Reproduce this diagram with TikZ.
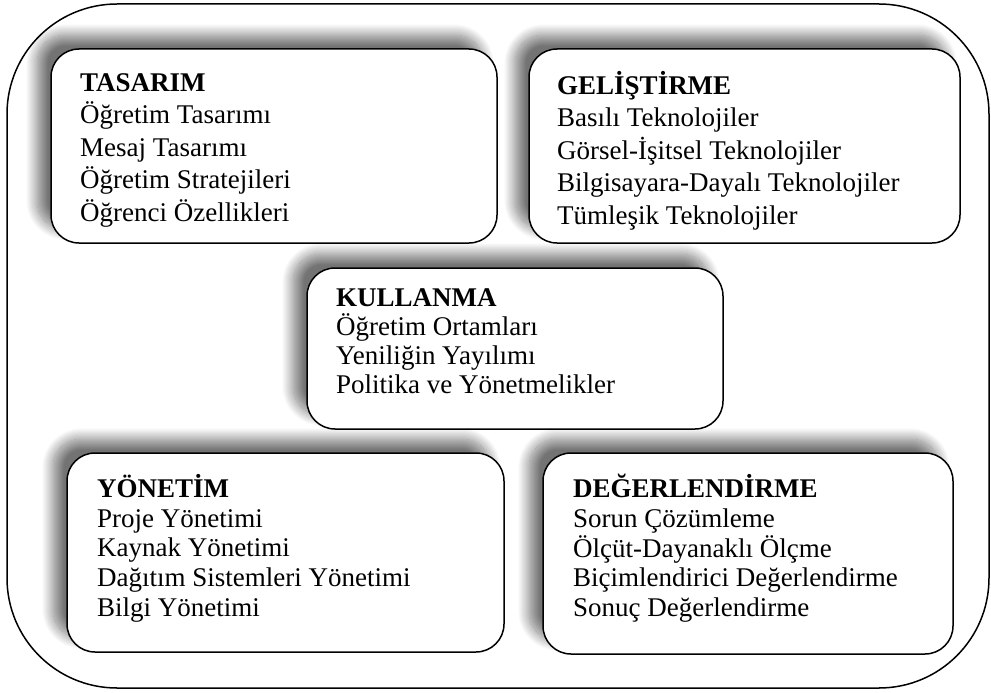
\documentclass[tikz,border=0pt]{standalone}
\usepackage{fontspec}
\setmainfont{Liberation Serif}
\usetikzlibrary{shadows.blur}
\begin{document}
\begin{tikzpicture}[x=1pt,y=-1pt]
\useasboundingbox (0,0) rectangle (991,693);
\tikzset{
  box/.style={rectangle, draw=black, line width=1.5pt, fill=white, rounded corners=28pt, inner sep=0pt,
    blur shadow={shadow xshift=-14pt, shadow yshift=14pt, shadow blur radius=11pt, shadow blur steps=20, shadow opacity=55}},
  outerbox/.style={rectangle, draw=black, line width=1.5pt, rounded corners=110pt, inner sep=0pt},
  txt/.style={anchor=north west, align=left, inner sep=0pt},
}
\newcommand{\hstrut}{\rule{0pt}{20pt}}
\node[outerbox, minimum width=982pt, minimum height=684pt] (outer) at (498,346) {};

\node[box, minimum width=446pt, minimum height=194pt] (tas) at (274,146) {};
\node[box, minimum width=431pt, minimum height=194pt] (gel) at (744.5,146) {};
\node[box, minimum width=416pt, minimum height=161pt] (kul) at (515,348.5) {};
\node[box, minimum width=437pt, minimum height=199pt] (yon) at (285.5,552.5) {};
\node[box, minimum width=410pt, minimum height=201pt] (deg) at (748,553.5) {};

\node[txt, font=\fontsize{27}{32.5}\selectfont] (tastxt) at (80,71)
  {\hstrut\textbf{TASARIM}\\Öğretim Tasarımı\\Mesaj Tasarımı\\Öğretim Stratejileri\\Öğrenci Özellikleri};
\node[txt, font=\fontsize{27}{32.5}\selectfont] (geltxt) at (557,71)
  {\hstrut\textbf{GELİŞTİRME}\\Basılı Teknolojiler\\Görsel-İşitsel Teknolojiler\\Bilgisayara-Dayalı Teknolojiler\\Tümleşik Teknolojiler};
\node[txt, font=\fontsize{27}{29}\selectfont] (kultxt) at (336,286)
  {\hstrut\textbf{KULLANMA}\\Öğretim Ortamları\\Yeniliğin Yayılımı\\Politika ve Yönetmelikler};
\node[txt, font=\fontsize{27}{29.7}\selectfont] (yontxt) at (97,474)
  {\hstrut\textbf{YÖNETİM}\\Proje Yönetimi\\Kaynak Yönetimi\\Dağıtım Sistemleri Yönetimi\\Bilgi Yönetimi};
\node[txt, font=\fontsize{27}{29.7}\selectfont] (degtxt) at (573,474)
  {\hstrut\textbf{DEĞERLENDİRME}\\Sorun Çözümleme\\Ölçüt-Dayanaklı Ölçme\\Biçimlendirici Değerlendirme\\Sonuç Değerlendirme};
\end{tikzpicture}
\end{document}
